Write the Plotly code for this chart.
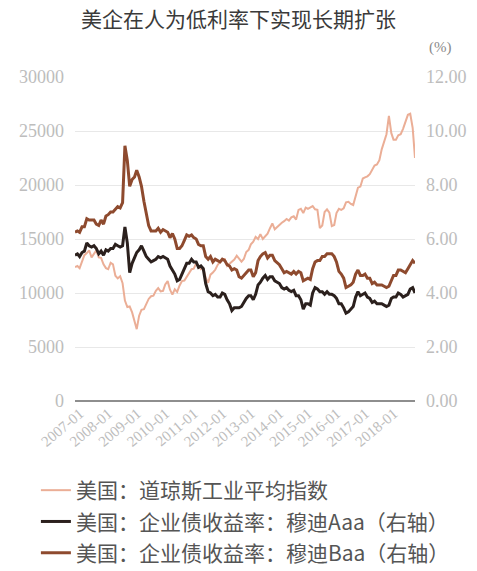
import pandas as pd
import plotly.graph_objects as go

# Monthly series, 2007-01 .. 2018-12
months = pd.date_range("2007-01-01", periods=144, freq="MS")

djia = [
    12400, 12500, 12300, 13000, 13500, 13700, 13950, 13300, 13700, 13950, 13300, 13250,
    12650, 12300, 12200, 12800, 12650, 11600, 11350, 11550, 10900, 9300, 8700, 8750,
    8200, 7300, 6650, 7900, 8450, 8500, 8900, 9450, 9700, 9750, 10200, 10450,
    10150, 10200, 10800, 11100, 10300, 9850, 10350, 10100, 10700, 11100, 11150, 11500,
    11850, 12200, 12250, 12750, 12500, 12200, 12300, 11400, 10950, 11700, 11900, 12150,
    12600, 12900, 13150, 13150, 12500, 12700, 12900, 13100, 13450, 13200, 12900, 13150,
    13800, 14000, 14500, 14750, 15200, 15000, 15450, 15000, 15250, 15500, 16000, 16450,
    15900, 16100, 16350, 16500, 16650, 16850, 16700, 17000, 17100, 16800, 17700, 17800,
    17400, 17900, 17800, 17900, 18050, 17750, 17700, 16000, 16250, 17500, 17750, 17450,
    16200, 16300, 17400, 17800, 17700, 17850, 18400, 18450, 18250, 18150, 18900, 19750,
    19850, 20600, 20700, 20800, 21000, 21350, 21800, 21900, 22300, 23300, 24100, 24700,
    26400, 24800, 24200, 24200, 24600, 24700, 25200, 25800, 26500, 26600, 25300, 22500,
]

aaa = [
    5.40, 5.45, 5.35, 5.50, 5.55, 5.85, 5.75, 5.70, 5.75, 5.65, 5.45, 5.55,
    5.40, 5.60, 5.55, 5.65, 5.65, 5.80, 5.75, 5.70, 5.75, 6.45, 5.85, 4.75,
    5.10, 5.35, 5.50, 5.60, 5.75, 5.55, 5.35, 5.25, 5.15, 5.20, 5.25, 5.35,
    5.30, 5.35, 5.30, 5.25, 5.00, 4.85, 4.70, 4.45, 4.50, 4.70, 4.90, 5.10,
    5.10, 5.25, 5.15, 5.15, 4.95, 5.00, 4.90, 4.35, 4.05, 4.00, 3.90, 3.95,
    3.85, 3.85, 4.00, 3.95, 3.75, 3.60, 3.35, 3.45, 3.45, 3.45, 3.50, 3.65,
    3.80, 3.90, 3.90, 3.75, 3.95, 4.30, 4.40, 4.55, 4.65, 4.50, 4.60, 4.60,
    4.45, 4.40, 4.35, 4.20, 4.15, 4.20, 4.10, 4.05, 4.10, 3.90, 3.90, 3.75,
    3.40, 3.60, 3.60, 3.55, 4.00, 4.20, 4.15, 4.05, 4.05, 3.95, 4.05, 3.95,
    3.95, 3.90, 3.80, 3.60, 3.60, 3.45, 3.25, 3.30, 3.40, 3.50, 3.85, 4.05,
    3.90, 3.95, 4.00, 3.85, 3.80, 3.65, 3.70, 3.60, 3.60, 3.60, 3.55, 3.50,
    3.55, 3.80, 3.85, 3.85, 4.00, 3.95, 3.85, 3.90, 3.95, 4.15, 4.20, 4.00,
]

baa = [
    6.25, 6.30, 6.25, 6.45, 6.45, 6.75, 6.70, 6.70, 6.70, 6.55, 6.50, 6.70,
    6.55, 6.85, 6.90, 7.00, 7.00, 7.10, 7.20, 7.15, 7.35, 9.45, 8.90, 7.95,
    8.20, 8.30, 8.55, 8.30, 7.95, 7.40, 6.95, 6.50, 6.30, 6.30, 6.30, 6.40,
    6.25, 6.35, 6.30, 6.25, 6.05, 6.20, 6.00, 5.65, 5.65, 5.75, 5.95, 6.15,
    6.10, 6.15, 6.05, 6.00, 5.80, 5.75, 5.75, 5.35, 5.25, 5.35, 5.15, 5.25,
    5.20, 5.15, 5.25, 5.20, 5.05, 5.00, 4.85, 4.90, 4.85, 4.60, 4.55, 4.65,
    4.75, 4.85, 4.85, 4.60, 4.75, 5.20, 5.35, 5.45, 5.50, 5.30, 5.40, 5.40,
    5.20, 5.10, 5.05, 4.90, 4.75, 4.80, 4.75, 4.70, 4.80, 4.70, 4.80, 4.75,
    4.45, 4.50, 4.55, 4.50, 4.90, 5.15, 5.20, 5.20, 5.35, 5.35, 5.45, 5.45,
    5.45, 5.35, 5.15, 4.80, 4.70, 4.55, 4.20, 4.25, 4.30, 4.40, 4.70, 4.85,
    4.65, 4.65, 4.70, 4.55, 4.55, 4.35, 4.40, 4.30, 4.30, 4.30, 4.25, 4.20,
    4.25, 4.50, 4.65, 4.65, 4.85, 4.85, 4.80, 4.75, 4.90, 5.05, 5.20, 5.10,
]

names = [
    "美国：道琼斯工业平均指数",
    "美国：企业债收益率：穆迪Aaa（右轴）",
    "美国：企业债收益率：穆迪Baa（右轴）",
]
colors = ["#EBAE96", "#2B201D", "#8E4A2E"]

left_ticks = [0, 5000, 10000, 15000, 20000, 25000, 30000]
right_ticks = [0, 2, 4, 6, 8, 10, 12]

serif = "Liberation Serif"
tick_font = dict(family=serif, size=18, color="#BDBDBD")

fig = go.Figure()
fig.add_trace(go.Scatter(
    x=months, y=djia, name=names[0], mode="lines",
    line=dict(color=colors[0], width=2), legendrank=1, legendgroup="a",
))
fig.add_trace(go.Scatter(
    x=months, y=baa, name=names[2], mode="lines", yaxis="y2",
    line=dict(color=colors[2], width=3), legendrank=3, legendgroup="c",
))
fig.add_trace(go.Scatter(
    x=months, y=aaa, name=names[1], mode="lines", yaxis="y2",
    line=dict(color=colors[1], width=3), legendrank=2, legendgroup="b",
))

fig.update_layout(
    width=477, height=571,
    margin=dict(l=75, r=62, t=77, b=170, autoexpand=False),
    paper_bgcolor="white", plot_bgcolor="white",
    font=dict(family="Noto Sans CJK SC, sans-serif", color="#555"),
    title=dict(
        text="美企在人为低利率下实现长期扩张",
        x=0.5, xref="container", xanchor="center",
        y=0.965, yref="container", yanchor="middle",
        font=dict(family="Noto Sans CJK SC", size=21, color="#3A3A3A"),
    ),
    xaxis=dict(
        type="date", automargin=False,
        range=["2007-01-01", "2018-12-01"],
        tick0="2007-01-01", dtick="M12", tickformat="%Y-%m",
        tickangle=-40, tickfont=dict(family=serif, size=15, color="#BDBDBD"),
        showgrid=False, showline=False, zeroline=False, ticks="",
        ticklabelshift=5,
    ),
    yaxis=dict(
        range=[0, 30000], tickvals=left_ticks, tickformat="d", automargin=False,
        tickfont=tick_font, ticklabelstandoff=10,
        showgrid=True, gridcolor="#E8E8E8", gridwidth=1,
        zeroline=True, zerolinecolor="#8E8E8E", zerolinewidth=1.5,
        showline=False, ticks="",
    ),
    yaxis2=dict(
        overlaying="y", side="right", automargin=False,
        range=[0, 12], tickvals=right_ticks, tickformat=".2f",
        tickfont=tick_font, ticklabelstandoff=10,
        showgrid=False, zeroline=False, showline=False, ticks="",
    ),
    legend=dict(
        orientation="v", traceorder="grouped", tracegroupgap=1,
        x=-0.115, xanchor="left", y=-0.213, yanchor="top",
        font=dict(family="Noto Sans CJK SC", size=21, color="#555"),
        bgcolor="rgba(0,0,0,0)",
    ),
    annotations=[dict(
        text="(%)", xref="paper", yref="paper", x=1.075, y=1.09,
        xanchor="center", yanchor="middle", showarrow=False,
        font=dict(family=serif, size=15, color="#8A8A8A"),
    )],
)

fig.write_html("out.html")
